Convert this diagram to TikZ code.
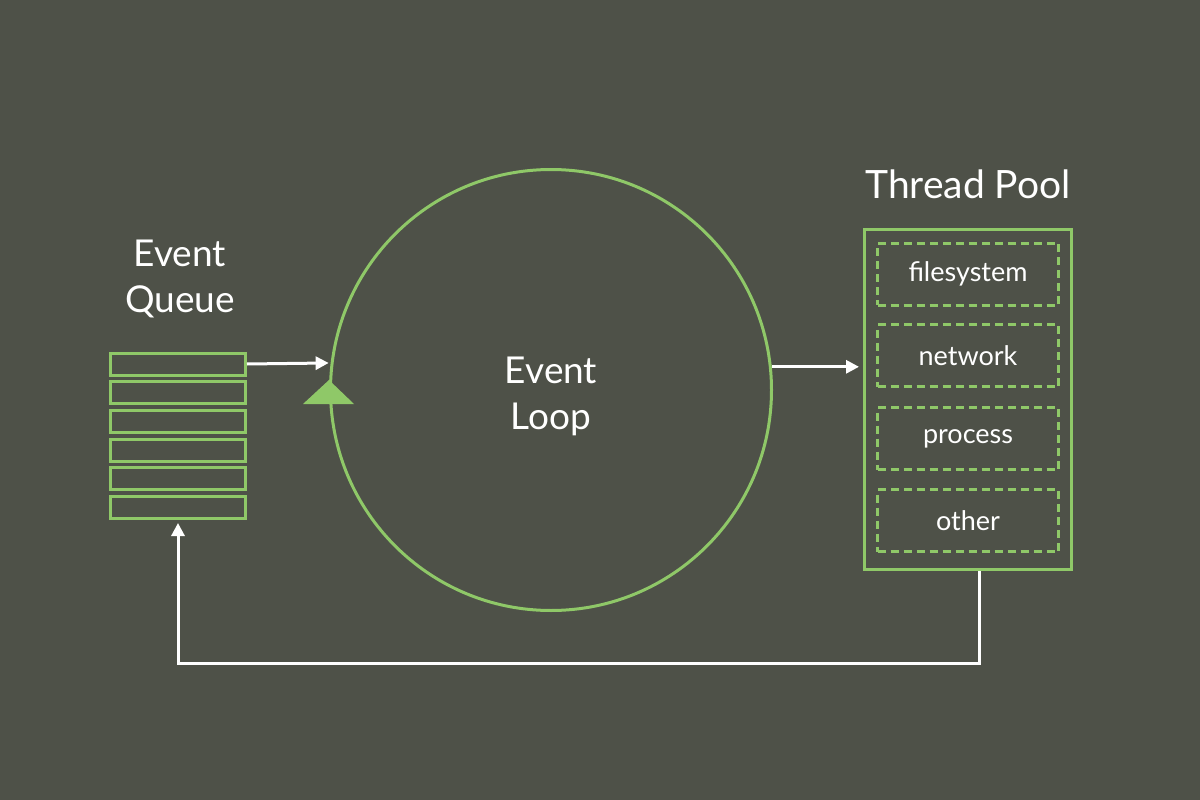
\documentclass[tikz,border=0pt]{standalone}
\usepackage{fontspec}
\setmainfont{Lato}
\usepackage{xcolor}
\usepackage{tikz}
\usetikzlibrary{shapes,arrows.meta,positioning,calc}
\definecolor{bgdark}{RGB}{78,81,72}
\definecolor{nodegreen}{RGB}{143,200,104}

\begin{document}
\begin{tikzpicture}[x=1pt, y=-1pt]
    % Define styles
    \tikzstyle{slot} = [rectangle, draw=nodegreen, line width=3pt, minimum width=135pt, minimum height=22pt, inner sep=0pt]
    \tikzstyle{worker} = [rectangle, draw=nodegreen, line width=3pt, dash pattern=on 8pt off 5pt, minimum width=181pt, minimum height=62pt, inner sep=0pt, text=white, font=\fontsize{27}{30}\selectfont]
    \tikzstyle{title} = [text=white, align=center, font=\fontsize{37}{46}\selectfont]
    \tikzstyle{flow} = [-{Triangle[length=13pt,width=13pt]}, draw=white, line width=3pt]

    % Background
    \fill[bgdark] (0,0) rectangle (1200,800);

    % Event queue
    \node[title] (queuelabel) at (180,279) {Event\\Queue};
    \foreach \i in {1,...,6}
        \node[slot] (q\i) at (178,{364+(\i-1)*28.7}) {};

    % Event loop
    \node[circle, draw=nodegreen, line width=3pt, minimum size=441pt] (loop) at (551,390) {};
    \node[title] (looplabel) at (551,396) {Event\\Loop};
    \fill[nodegreen] ($(loop.west)+(0,-10)$) -- ++(25,24) -- ++(-51,0) -- cycle;

    % Thread pool
    \node[rectangle, draw=nodegreen, line width=3pt, minimum width=207pt, minimum height=340pt] (pool) at (968,399.5) {};
    \node[title, font=\fontsize{39}{46}\selectfont] (poollabel) at (968,184) {Thread Pool};
    \node[worker] (fs) at (968,274) {filesystem};
    \node[worker] (net) at (968,355.5) {network};
    \node[worker] (proc) at (968,438.5) {process};
    \node[worker] (other) at (968,520.5) {other};

    % Connectors
    \draw[flow, shorten >=2pt] (q1.east) -- (loop.173);
    \draw[flow, shorten >=4pt] (loop.6) -- (loop.6 -| pool.west);
    \coordinate (poolout) at (979,571);
    \draw[flow, shorten >=3pt] (poolout) -- ++(0,92) -| (q6.south);

\end{tikzpicture}
\end{document}
